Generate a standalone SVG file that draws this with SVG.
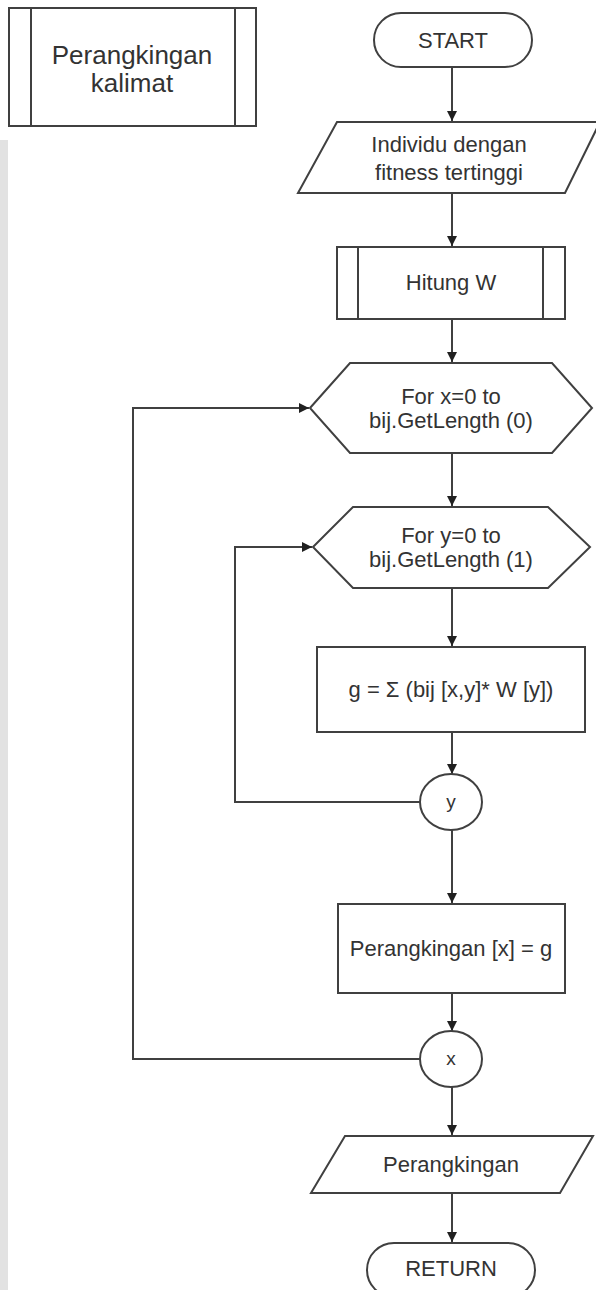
<svg xmlns="http://www.w3.org/2000/svg" width="596" height="1290" viewBox="0 0 596 1290">
  <style>
    .shape { fill: #ffffff; stroke: #404040; stroke-width: 2; }
    .bar { fill: none; stroke: #404040; stroke-width: 2; }
    .link { fill: none; stroke: #404040; stroke-width: 2; }
    text { font-family: "Liberation Sans", Arial, sans-serif; fill: #333333; text-anchor: middle; }
    .t { font-size: 22px; }
    .big { font-size: 26px; }
    .small { font-size: 19px; }
  </style>
  <defs>
    <marker id="arrow" viewBox="0 0 10 10" refX="10" refY="5" markerWidth="10" markerHeight="10" markerUnits="userSpaceOnUse" orient="auto">
      <path d="M0,0 L10,5 L0,10 Z" fill="#202020"/>
    </marker>
  </defs>

  <rect x="0" y="0" width="596" height="1290" fill="#ffffff"/>
  <rect x="0" y="140" width="8" height="1150" fill="#e2e2e2"/>

  <!-- connectors -->
  <g id="connectors">
    <line class="link" x1="452" y1="67" x2="452" y2="121" marker-end="url(#arrow)"/>
    <line class="link" x1="452" y1="193" x2="452" y2="246" marker-end="url(#arrow)"/>
    <line class="link" x1="452" y1="319" x2="452" y2="362" marker-end="url(#arrow)"/>
    <line class="link" x1="452" y1="453" x2="452" y2="506" marker-end="url(#arrow)"/>
    <line class="link" x1="452" y1="588" x2="452" y2="646" marker-end="url(#arrow)"/>
    <line class="link" x1="452" y1="732" x2="452" y2="774" marker-end="url(#arrow)"/>
    <line class="link" x1="452" y1="830" x2="452" y2="903" marker-end="url(#arrow)"/>
    <line class="link" x1="452" y1="993" x2="452" y2="1031" marker-end="url(#arrow)"/>
    <line class="link" x1="452" y1="1087" x2="452" y2="1135" marker-end="url(#arrow)"/>
    <line class="link" x1="452" y1="1193" x2="452" y2="1242" marker-end="url(#arrow)"/>
    <!-- inner loop back to the y hexagon -->
    <polyline class="link" points="420,802 235,802 235,547 312,547" marker-end="url(#arrow)"/>
    <!-- outer loop back to the x hexagon -->
    <polyline class="link" points="421,1059 133,1059 133,408 309,408" marker-end="url(#arrow)"/>
  </g>

  <g id="proc-title">
    <rect class="shape" x="9" y="8" width="247" height="118"/>
    <line class="bar" x1="31" y1="8" x2="31" y2="126"/>
    <line class="bar" x1="235" y1="8" x2="235" y2="126"/>
    <text class="big" x="132" y="64">Perangkingan</text>
    <text class="big" x="132" y="92">kalimat</text>
  </g>

  <g id="start">
    <rect class="shape" x="374" y="13" width="158" height="54" rx="27" ry="27"/>
    <text class="t" x="453" y="48">START</text>
  </g>

  <g id="input-individu">
    <polygon class="shape" points="337,122 600,122 565,193 298,193"/>
    <text class="t" x="449" y="152">Individu dengan</text>
    <text class="t" x="449" y="180">fitness tertinggi</text>
  </g>

  <g id="hitung-w">
    <rect class="shape" x="337" y="247" width="228" height="72"/>
    <line class="bar" x1="358" y1="247" x2="358" y2="319"/>
    <line class="bar" x1="543" y1="247" x2="543" y2="319"/>
    <text class="t" x="451" y="290">Hitung W</text>
  </g>

  <g id="loop-x">
    <polygon class="shape" points="310,408 350,363 552,363 592,408 552,453 350,453"/>
    <text class="t" x="451" y="404">For x=0 to</text>
    <text class="t" x="451" y="428">bij.GetLength (0)</text>
  </g>

  <g id="loop-y">
    <polygon class="shape" points="313,547 353,507 548,507 590,547 548,588 353,588"/>
    <text class="t" x="451" y="543">For y=0 to</text>
    <text class="t" x="451" y="567">bij.GetLength (1)</text>
  </g>

  <g id="hitung-g">
    <rect class="shape" x="317" y="647" width="268" height="85"/>
    <text class="t" x="451" y="697">g = Σ (bij [x,y]* W [y])</text>
  </g>

  <g id="end-y">
    <ellipse class="shape" cx="451" cy="802" rx="31" ry="28"/>
    <text class="small" x="451" y="808">y</text>
  </g>

  <g id="simpan-rank">
    <rect class="shape" x="338" y="904" width="227" height="89"/>
    <text class="t" x="451" y="956">Perangkingan [x] = g</text>
  </g>

  <g id="end-x">
    <ellipse class="shape" cx="451" cy="1059" rx="31" ry="28"/>
    <text class="small" x="451" y="1065">x</text>
  </g>

  <g id="output-rank">
    <polygon class="shape" points="345,1136 593,1136 560,1193 311,1193"/>
    <text class="t" x="451" y="1172">Perangkingan</text>
  </g>

  <g id="return">
    <rect class="shape" x="367" y="1243" width="168" height="54" rx="27" ry="27"/>
    <text class="t" x="451" y="1276">RETURN</text>
  </g>
</svg>
